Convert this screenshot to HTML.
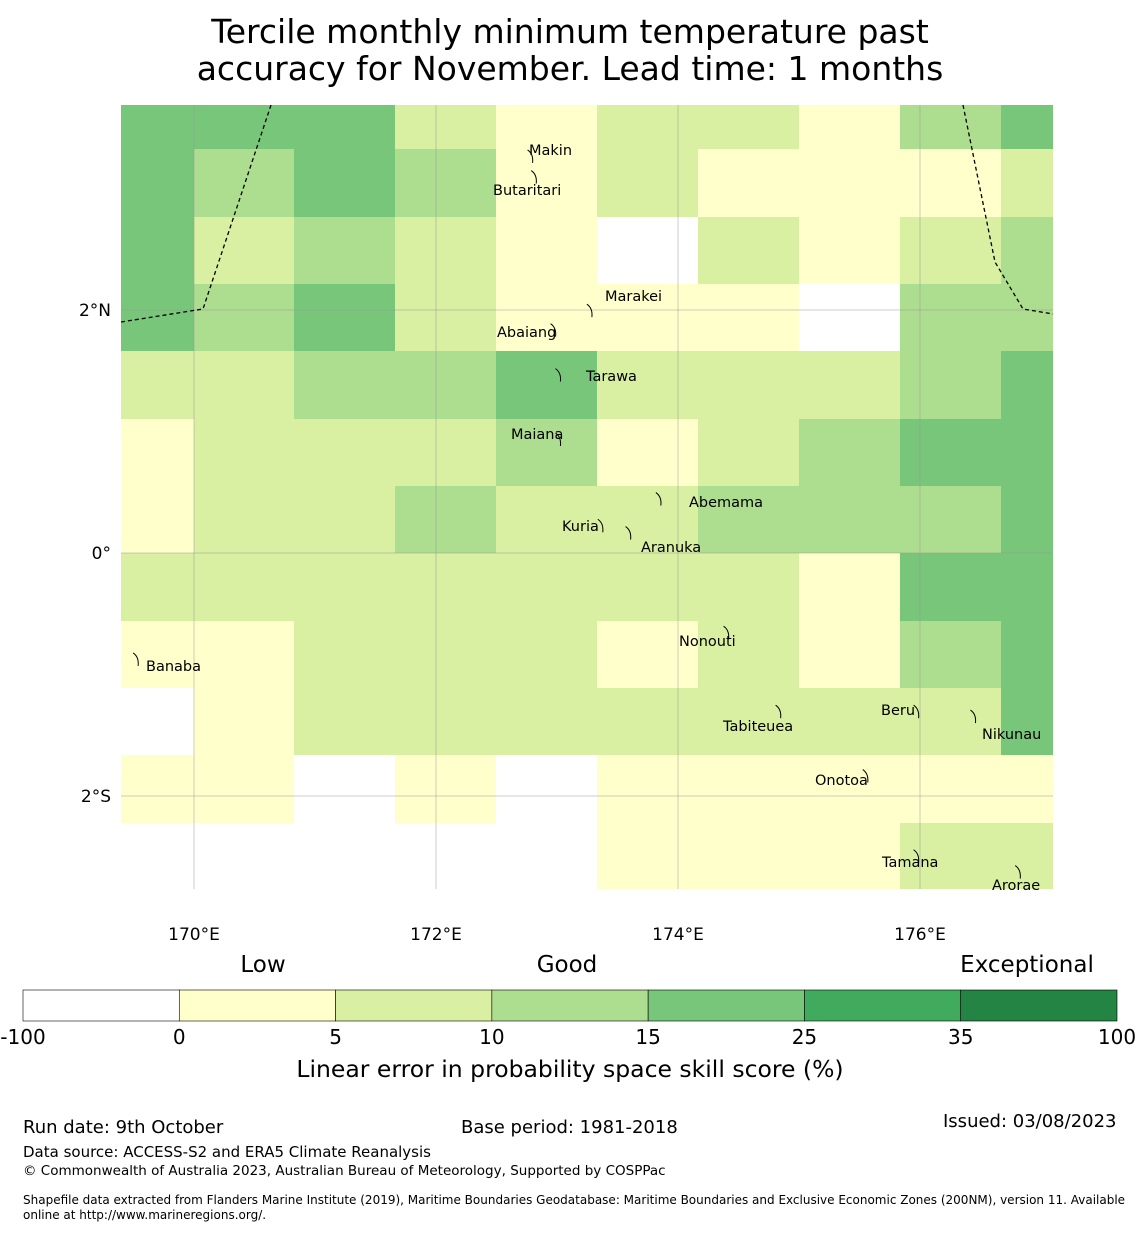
<!DOCTYPE html>
<html><head><meta charset="utf-8">
<style>
body{margin:0;background:#fff;font-family:"Liberation Sans","DejaVu Sans",sans-serif;}
svg text{font-family:"DejaVu Sans","Liberation Sans",sans-serif;}
</style></head>
<body>
<svg id="chart" width="1140" height="1230" xmlns="http://www.w3.org/2000/svg">
<text x="570" y="43" text-anchor="middle" font-size="33">Tercile monthly minimum temperature past</text>
<text x="570" y="80" text-anchor="middle" font-size="33">accuracy for November. Lead time: 1 months</text>
<g id="cells"></g>
<g id="grid"></g>
<g fill="none" stroke="#000" stroke-width="1.3" stroke-dasharray="4,3">
<polyline points="121,322 203,309 271,105"/>
<polyline points="963,105 995,262 1023,309 1053,314"/>
</g>
<g id="islands"></g>
<g id="ticks"></g>
<g id="cbar"></g>
<text x="263" y="972" text-anchor="middle" font-size="23">Low</text>
<text x="567" y="972" text-anchor="middle" font-size="23">Good</text>
<text x="1027" y="972" text-anchor="middle" font-size="23">Exceptional</text>
<text x="570" y="1077" text-anchor="middle" font-size="23.5">Linear error in probability space skill score (%)</text>
<text x="23" y="1133" font-size="18">Run date: 9th October</text>
<text x="461" y="1133" font-size="18">Base period: 1981-2018</text>
<text x="943" y="1127" font-size="18">Issued: 03/08/2023</text>
<text x="23" y="1157" font-size="15">Data source: ACCESS-S2 and ERA5 Climate Reanalysis</text>
<text x="23" y="1175" font-size="13.5">© Commonwealth of Australia 2023, Australian Bureau of Meteorology, Supported by COSPPac</text>
<text x="23" y="1204" font-size="12">Shapefile data extracted from Flanders Marine Institute (2019), Maritime Boundaries Geodatabase: Maritime Boundaries and Exclusive Economic Zones (200NM), version 11. Available</text>
<text x="23" y="1219" font-size="12">online at http://www.marineregions.org/.</text>
</svg>
<script>
const colEdgesPx=[121,194,294,395,496,597,698,799,900,1001,1053];
const rowEdgesPx=[105,149,217,284,351,419,486,553,621,688,755,823,889];
const levels=[
[4,4,4,2,1,2,2,1,3,4],
[4,3,4,3,1,2,1,1,1,2],
[4,2,3,2,1,0,2,1,2,3],
[4,3,4,2,1,1,1,0,3,3],
[2,2,3,3,4,2,2,2,3,4],
[1,2,2,2,3,1,2,3,4,4],
[1,2,2,3,2,2,3,3,3,4],
[2,2,2,2,2,2,2,1,4,4],
[1,1,2,2,2,1,2,1,3,4],
[0,1,2,2,2,2,2,2,2,4],
[1,1,0,1,0,1,1,1,1,1],
[0,0,0,0,0,1,1,1,2,2]];
const binLabels=["-100","0","5","10","15","25","35","100"];
const binColors=["#ffffff","#ffffcc","#d9f0a3","#addd8e","#78c679","#41ab5d","#238443"];
const lonTicks=[170,172,174,176];
const latTicks=[2,0,-2];
const islandNames=["Makin","Butaritari","Marakei","Abaiang","Tarawa","Maiana","Abemama","Kuria","Aranuka","Nonouti","Banaba","Beru","Tabiteuea","Nikunau","Onotoa","Tamana","Arorae"];
const islandLon=[172.79,172.82,173.28,172.98,173.02,173.02,173.85,173.37,173.60,174.41,169.53,175.98,174.84,176.45,175.56,175.98,176.82];
const islandLat=[3.26,3.09,1.99,1.83,1.46,0.93,0.44,0.22,0.16,-0.66,-0.88,-1.31,-1.31,-1.35,-1.84,-2.50,-2.63];
/* label anchor pixel positions (layout, not data) */
const labelPxX=[529,493,605,497,586,511,689,562,641,679,146,881,723,982,815,882,992];
const labelPxY=[155,195,301,337,381,439,507,531,552,646,671,715,731,739,785,867,890];
const ns="http://www.w3.org/2000/svg";
const X=lon=>194+(lon-170)*121;
const Y=lat=>553-lat*121.5;
function mk(t,a,p){const e=document.createElementNS(ns,t);for(const k in a)e.setAttribute(k,a[k]);p.appendChild(e);return e;}
const cells=document.getElementById('cells');
levels.forEach((row,r)=>row.forEach((v,c)=>{
 const e=mk('rect',{x:colEdgesPx[c],y:rowEdgesPx[r],width:colEdgesPx[c+1]-colEdgesPx[c],height:rowEdgesPx[r+1]-rowEdgesPx[r],fill:binColors[v]},cells);
 
 
}));
const grid=document.getElementById('grid'),ticks=document.getElementById('ticks');
lonTicks.forEach(l=>{
 const g=mk('line',{x1:X(l),x2:X(l),y1:105,y2:889,stroke:'#999',"stroke-width":0.5},grid);
 
 
 const t=mk('text',{x:X(l),y:940,"text-anchor":"middle","font-size":17},ticks);t.textContent=l+'°E';
 
 
});
latTicks.forEach(l=>{
 const g=mk('line',{x1:121,x2:1053,y1:Y(l),y2:Y(l),stroke:'#999',"stroke-width":0.5},grid);
 
 
 const t=mk('text',{x:111,y:Y(l)+6,"text-anchor":"end","font-size":17},ticks);t.textContent=l===0?'0°':Math.abs(l)+'°'+(l>0?'N':'S');
 
 
});
const isl=document.getElementById('islands');
islandNames.forEach((n,i)=>{
 const x=X(islandLon[i]),y=Y(islandLat[i]);
 const p=mk('path',{d:`M${x-4},${y-7} q6,4 5,13`,fill:'none',stroke:'#000',"stroke-width":1},isl);
 
 
 const t=mk('text',{x:labelPxX[i],y:labelPxY[i],"font-size":14.5},isl);t.textContent=n;
 
 
});
const cb=document.getElementById('cbar');const w=(1117-23)/binColors.length;
binColors.forEach((c,i)=>{
 const r=mk('rect',{x:23+i*w,y:990,width:w,height:31,fill:c,stroke:'#000',"stroke-width":0.6},cb);
 
 
});
binLabels.forEach((l,i)=>{
 const t=mk('text',{x:23+i*w,y:1044,"text-anchor":"middle","font-size":20},cb);t.textContent=l;
 
 
});
</script>
</body></html>
